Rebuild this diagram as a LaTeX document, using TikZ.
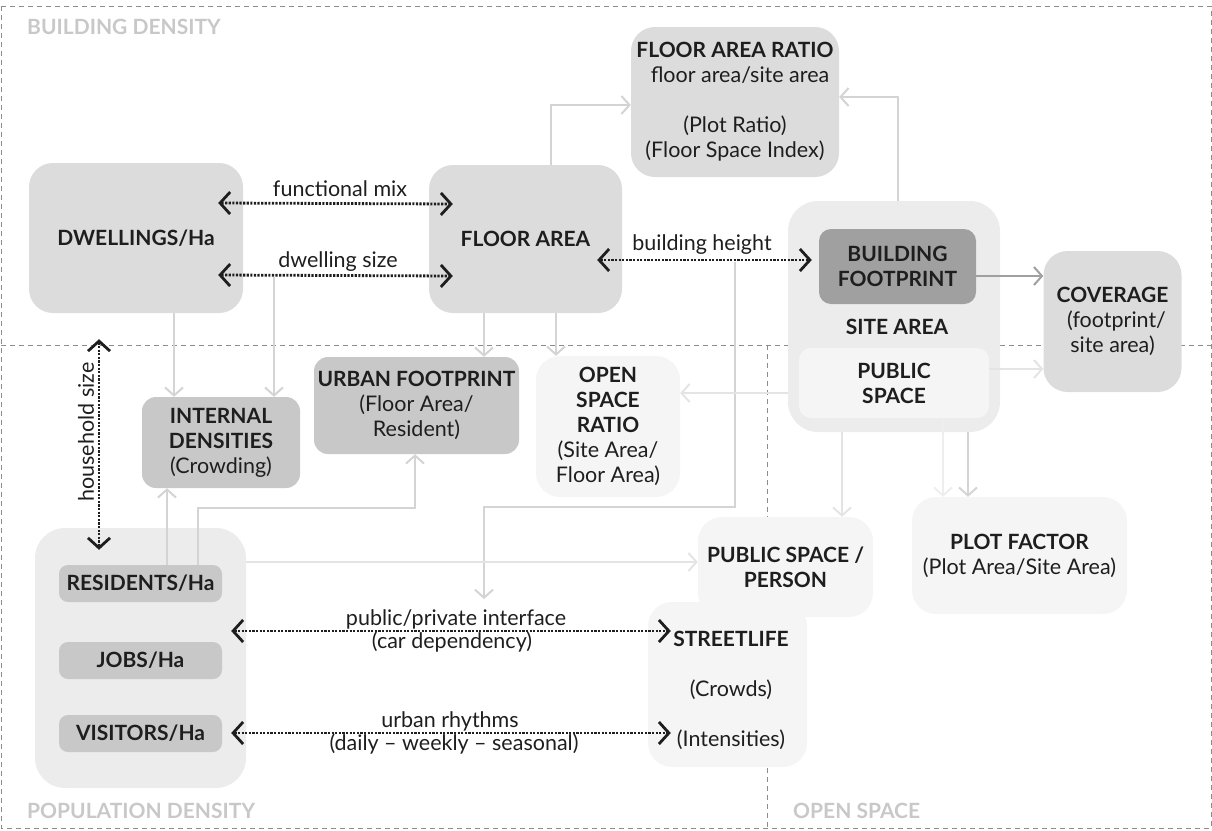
\documentclass[tikz,border=0pt]{standalone}
\usepackage{fontspec}
\setmainfont{Lato}
\usetikzlibrary{arrows.meta,calc}
\definecolor{txt}{HTML}{1E1E1E}
\definecolor{cA}{HTML}{DCDCDC}
\definecolor{cB}{HTML}{C8C8C8}
\definecolor{cC}{HTML}{A0A0A0}
\definecolor{cD}{HTML}{ECECEC}
\definecolor{cE}{HTML}{F5F5F5}
\definecolor{sec}{HTML}{C8C8C8}
\definecolor{frame}{HTML}{8C8C8C}
\definecolor{dark}{HTML}{1E1E1E}
\definecolor{gl}{HTML}{D4D4D4}
\definecolor{gll}{HTML}{E4E4E4}
\definecolor{glll}{HTML}{EEEEEE}
\definecolor{gm}{HTML}{A0A0A0}
\newcommand{\tb}[1]{{\fontsize{21}{25}\selectfont\bfseries #1}}
\begin{document}
\begin{tikzpicture}[x=1pt,y=-1pt,
  bodyfont/.style={font=\fontsize{21.5}{25}\selectfont},
  box/.style={bodyfont,align=center,text=txt,inner sep=0pt,rounded corners=24pt},
  smallbox/.style={box,rounded corners=9pt},
  midbox/.style={box,rounded corners=14pt},
  lbl/.style={bodyfont,text=txt,inner sep=1pt,align=center},
  section/.style={font=\fontsize{21}{24}\selectfont\bfseries,text=sec,inner sep=0pt,anchor=west},
  dashframe/.style={draw=frame,line width=0.9pt,dash pattern=on 5pt off 4pt},
  dd/.style={draw=dark,line width=2.8pt,dash pattern=on 2.2pt off 1.4pt,
     {Straight Barb[length=10pt,width=22pt,line width=2.8pt]}-{Straight Barb[length=10pt,width=22pt,line width=2.8pt]}},
  ga/.style={draw=gl,line width=2pt,-{Straight Barb[length=8pt,width=18pt]}},
  gb/.style={draw=gll,line width=2pt,-{Straight Barb[length=8pt,width=18pt]}},
  gc/.style={draw=glll,line width=2pt,-{Straight Barb[length=8pt,width=18pt]}},
  gd/.style={draw=gm,line width=2pt,-{Straight Barb[length=8pt,width=18pt]}},
]
\useasboundingbox (0,0) rectangle (1212,830);
% frames
\draw[dashframe] (1,6) rectangle (1211,828);
\draw[dashframe] (1,345) -- (1211,345);
\draw[dashframe] (767,345) -- (767,828);
% section labels
\node[section] (secb) at (27,27) {BUILDING DENSITY};
\node[section] (secp) at (27,811) {POPULATION DENSITY};
\node[section] (seco) at (793,811) {OPEN SPACE};

% boxes
\node[box,fill=cA,minimum width=214pt,minimum height=150pt] (dw) at (136,238) {\tb{DWELLINGS/Ha}};
\node[box,fill=cA,minimum width=193pt,minimum height=148pt] (fa) at (525.5,239) {\tb{FLOOR AREA}};
\node[box,fill=cA,minimum width=208pt,minimum height=150pt] (far) at (735,102)
  {\tb{FLOOR AREA RATIO}\\\hspace*{10pt}floor area/site area\\[25pt](Plot Ratio)\\(Floor Space Index)};
\node[box,fill=cD,rounded corners=30pt,minimum width=212pt,minimum height=231pt] (sa) at (894,316.5) {};
\node[midbox,fill=cC,rounded corners=12pt,minimum width=157pt,minimum height=75pt] (bf) at (897.5,266.5) {\tb{BUILDING}\\\tb{FOOTPRINT}};
\node[lbl] (salbl) at (897,327) {\tb{SITE AREA}};
\node[midbox,fill=cE,rounded corners=12pt,minimum width=190pt,minimum height=70pt] (ps) at (894,383) {\tb{PUBLIC}\\\tb{SPACE}};
\node[box,fill=cA,minimum width=138pt,minimum height=141pt] (cov) at (1112.5,321.5) {\tb{COVERAGE}\\\hspace*{8pt}(footprint/\\site area)};
\node[midbox,fill=cB,minimum width=158pt,minimum height=91pt] (id) at (221,442.5) {\tb{INTERNAL}\\\tb{DENSITIES}\\(Crowding)};
\node[midbox,fill=cB,minimum width=205pt,minimum height=97pt] (uf) at (416.5,405.5) {\tb{URBAN FOOTPRINT}\\(Floor Area/\\Resident)};
\node[box,fill=cE,minimum width=144pt,minimum height=141pt] (osr) at (608,426.5) {\tb{OPEN}\\\tb{SPACE}\\\tb{RATIO}\\(Site Area/\\Floor Area)};
\node[box,fill=cD,rounded corners=30pt,minimum width=211pt,minimum height=260pt] (pop) at (140.5,658) {};
\node[smallbox,fill=cB,minimum width=163pt,minimum height=37pt] (res) at (140.5,583.5) {\tb{RESIDENTS/Ha}};
\node[smallbox,fill=cB,minimum width=163pt,minimum height=37pt] (jobs) at (140.5,660.5) {\tb{JOBS/Ha}};
\node[smallbox,fill=cB,minimum width=163pt,minimum height=37pt] (vis) at (140.5,733.5) {\tb{VISITORS/Ha}};
\node[box,fill=cE,minimum width=175pt,minimum height=100pt] (psp) at (785.5,567) {\tb{PUBLIC SPACE /}\\\tb{PERSON}};
\node[box,fill=cE,minimum width=159pt,minimum height=165pt] (sl) at (727.5,684.5) {};
\node[lbl] (sltxt) at (731,690) {\tb{STREETLIFE}\\[25pt](Crowds)\\[25pt](Intensities)};
\node[box,fill=cE,minimum width=215pt,minimum height=117pt] (pf) at (1019.5,555.5) {\tb{PLOT FACTOR}\\(Plot Area/Site Area)};

% dark dotted connectors
\draw[dd] ([shift={(-25pt,35pt)}]dw.east) -- ([shift={(24pt,35pt)}]fa.west);
\node[lbl] (lfm) at (340,189) {functional mix};
\draw[dd] ([shift={(-25pt,-37pt)}]dw.east) -- ([shift={(24pt,-37pt)}]fa.west);
\node[lbl] (lds) at (338,262) {dwelling size};
\draw[dd] ([shift={(-25pt,-21pt)}]fa.east) -- ([shift={(-7pt,6.5pt)}]bf.west);
\node[lbl] (lbh) at (702,245) {building height};
\draw[dd] ([shift={(-37pt,-26pt)}]dw.south) -- ([shift={(-41.5pt,-22pt)}]pop.north);
\node[lbl,rotate=90] (lhs) at (86,432) {household size};
\draw[dd] ([shift={(-15pt,27pt)}]pop.east) -- ([shift={(23pt,53.5pt)}]sl.west);
\node[lbl] (lpp) at (456,619) {public/private interface};
\node[lbl] (lcd) at (452,642) {(car dependency)};
\draw[dd] ([shift={(-15pt,-75pt)}]pop.east) -- ([shift={(23pt,-48.5pt)}]sl.west);
\node[lbl] (lur) at (450,721) {urban rhythms};
\node[lbl] (ldw) at (454,744) {(daily -- weekly -- seasonal)};

% gray connectors
\draw[ga] ([xshift=25.5pt]fa.north) |- ([yshift=-3pt]far.west);
\draw[ga] ([xshift=4pt]sa.north) |- ([yshift=5pt]far.east);
\draw[gd] ([yshift=-9.5pt]bf.east) coordinate (c1) -- (c1 -| cov.west);
\draw[gb] ([yshift=14pt]ps.east) coordinate (c2) -- (c2 -| cov.west);
\draw[ga] ([xshift=38pt]dw.south) coordinate (c3) -- (c3 |- id.north);
\coordinate (dsx) at (274,277);
\draw[ga] (dsx) -- (dsx |- id.north);
\draw[ga] ([xshift=-41.5pt]fa.south) coordinate (c4) -- (c4 |- uf.north);
\draw[ga] ([xshift=30.5pt]fa.south) coordinate (c5) -- (c5 |- osr.north);
\coordinate (bhx) at (735,262);
\coordinate (bhturn) at (484,507);
\coordinate (bhend) at (484,599);
\draw[ga] (bhx) |- (bhturn) -- (bhend);
\draw[ga] ([xshift=26.5pt]res.north) coordinate (c6) -- (c6 |- id.south);
\coordinate (kturn) at (415,508);
\draw[ga] ([xshift=57.5pt]res.north) |- (kturn) -- (kturn |- uf.south);
\draw[gb] ([yshift=96pt]pop.east) coordinate (c7) -- (c7 -| psp.west);
\draw[gb] ([yshift=-76.5pt]sa.west) coordinate (c8) -- (c8 -| osr.east);
\draw[gb] ([xshift=-52pt]sa.south) coordinate (c9) -- (c9 |- psp.north);
\draw[gc] ([xshift=49pt]ps.south) coordinate (c10) -- (c10 |- pf.north);
\draw[ga] ([xshift=74pt]sa.south) coordinate (c11) -- (c11 |- pf.north);
\end{tikzpicture}
\end{document}
